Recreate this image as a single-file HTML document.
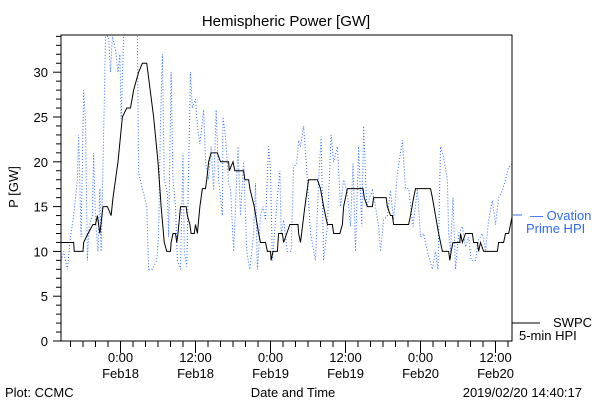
<!DOCTYPE html>
<html><head><meta charset="utf-8"><style>
body{margin:0;background:#fff}
svg text{font-family:"Liberation Sans",sans-serif;font-size:13px}
</style></head><body>
<svg id="chart" width="600" height="400" viewBox="0 0 600 400" xmlns="http://www.w3.org/2000/svg">
<rect width="600" height="400" fill="#fff"/>
<text x="286" y="26" text-anchor="middle" style="font-size:15px">Hemispheric Power [GW]</text>
<text transform="translate(18,187) rotate(-90)" text-anchor="middle">P [GW]</text>
<text x="5" y="397">Plot: CCMC</text>
<text x="293" y="397" text-anchor="middle">Date and Time</text>
<text x="582" y="397" text-anchor="end">2019/02/20 14:40:17</text>
<g id="axes"></g>
<g id="series"></g>
<rect x="61" y="35" width="451" height="306" fill="none" stroke="#000" stroke-width="1"/>
<line x1="513" y1="215" x2="522" y2="215" stroke="#2f6cf0" stroke-width="1"/>
<text x="530" y="220" fill="#2f6cf0">— Ovation</text>
<text x="526" y="233" fill="#2f6cf0">Prime HPI</text>
<line x1="512" y1="323" x2="540" y2="323" stroke="#000" stroke-width="1"/>
<text x="553" y="327">SWPC</text>
<text x="519" y="340">5-min HPI</text>
</svg>
<script>
const yTicks=[0,5,10,15,20,25,30];
const xTickHours=[0,12,24,36,48,60];
const xTickTimes=["0:00","12:00","0:00","12:00","0:00","12:00"];
const xTickDates=["Feb18","Feb18","Feb19","Feb19","Feb20","Feb20"];
const swpcHours=[-9.5,-7.5,-7.4,-6.0,-5.9,-5.2,-4.4,-4,-3.7,-3.3,-2.8,-2.1,-1.5,-1.2,-0.4,0.3,1.0,1.6,2.1,2.5,2.9,3.5,4.2,5.3,6.0,6.5,7.0,7.4,8.0,8.1,8.4,8.8,9.0,9.2,9.6,10.5,10.7,11.1,11.3,11.8,12,12.3,12.7,13.1,13.6,13.8,14.1,14.5,15.5,16,16.3,17.3,17.4,18,18.3,19.7,19.9,20.5,20.7,21.4,22.1,22.4,23.2,23.5,24,24.1,24.4,25.1,25.3,25.9,26.1,26.6,27.1,28.4,28.5,28.8,29.5,29.9,30.1,31.5,32,32.5,33.1,33.9,34.1,35.1,35.5,35.7,36.3,36.8,37.3,38.8,39,39.5,40.3,40.5,42.5,42.7,43.2,43.5,43.7,46.1,46.4,46.9,47.2,49.6,49.9,50.4,50.9,51.5,52.5,52.7,52.9,53.2,54.3,54.4,54.7,55.2,56.3,56.5,57.1,57.3,57.6,58.1,60.3,60.5,61.3,61.6,62.1,62.4,62.7];
const swpcValues=[11,11,10,10,11,12,13,13,14,12,15,15,14,16,20,25,26,26,28,29,30,31,31,25,20,15,11,10,10,11,12,12,11,12,15,15,14,13,12,12,13,12,15,17,17,18,20,21,21,20,20,20,19,20,19,19,18,18,17,15,12,11,11,10,10,9,10,10,12,12,11,12,13,13,12,11,15,17,18,18,17,15,13,13,12,12,13,15,17,17,17,17,16,15,15,16,16,15,14,14,13,13,14,16,17,17,16,14,12,10,10,9,10,11,11,12,11,12,12,11,11,10,11,10,10,11,11,12,12,13,14];
const ovHours=[-9.5,-9.1,-8.5,-8.0,-7.5,-6.9,-6.7,-6.3,-5.9,-5.6,-5.3,-5.0,-4.5,-4.3,-4.0,-3.6,-3.3,-3.1,-2.7,-2.4,-1.9,-1.6,-1.3,-0.8,-0.4,-0.1,0.1,0.5,1.5,2.7,2.9,3.7,4.2,4.5,5.1,5.8,6.1,6.4,6.7,7.0,7.5,7.7,8.1,8.4,8.8,9.1,9.6,10.0,10.2,10.6,10.8,11.2,11.5,12.0,12.3,12.7,13.3,13.6,14.1,14.5,14.9,15.3,15.7,16.3,16.4,16.8,17.3,17.6,18.1,18.8,19.2,19.7,20.2,20.7,21.3,21.6,21.9,22.1,22.4,22.8,23.2,23.7,24.0,24.3,24.8,25.2,25.5,25.7,26.1,26.7,27.3,27.7,28.2,28.5,28.8,29.3,29.9,30.4,31.2,31.7,32.1,32.5,33.1,33.7,34.1,34.7,35.2,35.7,36.3,36.8,37.2,37.6,38.1,38.6,38.9,39.4,39.7,40.3,40.8,41.3,41.6,42.1,42.7,43.2,43.7,44.3,45.1,45.6,46.1,46.8,47.5,48.0,48.5,49.1,49.9,50.4,50.8,51.2,51.7,52.3,52.5,52.8,53.2,53.6,54.1,54.7,55.2,55.7,56.1,56.8,57.3,57.9,58.4,58.9,59.5,60.0,60.5,61.1,61.6,62.1,62.7];
const ovValues=[9,10,8,11.6,14,18,23,11.6,28,24.6,9,12.8,14,21,13.5,10,17,10,23,34,34,30,34,32.5,30,32,24.8,34,37,34,18.7,16.5,15,8,8,9,12,24.6,32,18,16.5,11.6,30,18,15,9,8,21,10,8.3,15.7,30,26,27,24,22,25.8,20,18,21.7,16.8,25.8,18,14,25,22.8,17.6,17,10,21.7,14,20,10,8,12,17.6,8,10,14,15,13.5,21.7,19,9,13.5,16.8,19,12,13.5,10,10,19.4,19.8,22.4,21.7,24,18,12,9,18,22.8,9,12.8,23,20,21.7,15,18,16.5,12.8,19.8,10,21.7,12.8,24,15,15.7,16.8,15,12.8,10,13.5,14,16.8,13.5,18.7,22.4,17,17,12.8,17,11.6,12,10,8,10,8,21.7,20.5,18,12,10,16,8,12,12.8,10.5,11.6,9,9,11.3,12,10,13.5,15.7,13,16,16.8,18,19.4,19.8];

const X0=120.5,PXH=75/12,Y0=341,PXV=8.96,L=61,R=512,T=35,B=341;
const xs=h=>X0+h*PXH, ys=v=>Y0-v*PXV;
const NS="http://www.w3.org/2000/svg";
const axes=document.getElementById('axes'), series=document.getElementById('series');
function mk(tag,attrs,parent){const e=document.createElementNS(NS,tag);for(const k in attrs)e.setAttribute(k,attrs[k]);parent.appendChild(e);return e;}
for(let v=0;v<=34;v++){const y=ys(v);const major=yTicks.includes(v);
 const t=mk('line',{x1:major?53:56,x2:L,y1:y,y2:y,stroke:'#000'},axes);
 
 }
yTicks.forEach(v=>{const t=mk('text',{x:48,y:ys(v)+5,'text-anchor':'end'},axes);t.textContent=v;
 
 });
for(let h=-8;h<=62;h+=2){const x=xs(h);const major=xTickHours.includes(h);
 const t=mk('line',{x1:x,x2:x,y1:B,y2:B+(major?12:6),stroke:'#000'},axes);
 
 }
xTickHours.forEach((h,i)=>{const a=mk('text',{x:xs(h),y:362,'text-anchor':'middle'},axes);a.textContent=xTickTimes[i];
 
 
 const b=mk('text',{x:xs(h),y:378,'text-anchor':'middle'},axes);b.textContent=xTickDates[i];
 
 });
const defs=mk('defs',{},series);const cp=mk('clipPath',{id:'pc'},defs);mk('rect',{x:L,y:T,width:R-L,height:B-T},cp);
const ov=mk('polyline',{points:ovHours.map((h,i)=>xs(h)+','+ys(ovValues[i])).join(' '),fill:'none',stroke:'#2f6cf0','stroke-width':1,'stroke-dasharray':'1,2','clip-path':'url(#pc)'},series);


const sw=mk('polyline',{points:swpcHours.map((h,i)=>xs(h)+','+ys(swpcValues[i])).join(' '),fill:'none',stroke:'#000','stroke-width':1,'clip-path':'url(#pc)'},series);


</script>
</body></html>
